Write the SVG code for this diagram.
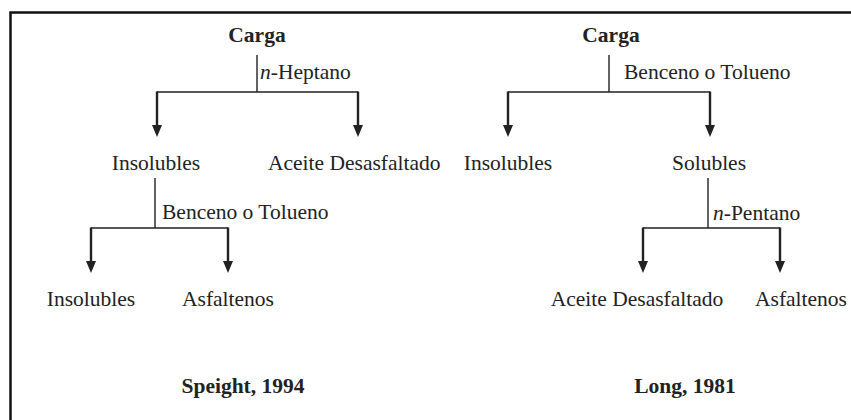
<svg xmlns="http://www.w3.org/2000/svg" width="851" height="420" viewBox="0 0 851 420">
  <style>
    .t { font-family: "Liberation Serif", "Times New Roman", serif; font-size: 21.5px; fill: #222; }
    .b { font-weight: bold; font-size: 21.5px; }
    .c { text-anchor: middle; }
    .thin { stroke: #222; stroke-width: 1.4; fill: none; }
    .stem { stroke: #222; stroke-width: 2.4; fill: none; marker-end: url(#head); }
    .frame { stroke: #111; stroke-width: 2.5; fill: none; }
  </style>
  <defs>
    <marker id="head" viewBox="0 0 10 12" refX="5" refY="0" markerWidth="10" markerHeight="12" markerUnits="userSpaceOnUse" orient="0">
      <path d="M0,0 L10,0 L5,12 z" fill="#222"/>
    </marker>
  </defs>

  <rect width="851" height="420" fill="#fff"/>
  <path class="frame" d="M10.5,420 V12.5 H851"/>

  <!-- Speight, 1994 -->
  <g id="speight-carga"><text class="t b c" x="257" y="42">Carga</text></g>
  <g id="speight-insolubles-1"><text class="t c" x="156" y="170">Insolubles</text></g>
  <g id="speight-aceite"><text class="t" x="268" y="170">Aceite Desasfaltado</text></g>
  <g id="speight-insolubles-2"><text class="t c" x="91" y="306">Insolubles</text></g>
  <g id="speight-asfaltenos"><text class="t c" x="228" y="306">Asfaltenos</text></g>
  <g id="speight-title"><text class="t b c" x="243" y="393">Speight, 1994</text></g>

  <!-- Long, 1981 -->
  <g id="long-carga"><text class="t b c" x="611" y="42">Carga</text></g>
  <g id="long-insolubles"><text class="t c" x="508" y="170">Insolubles</text></g>
  <g id="long-solubles"><text class="t c" x="709" y="170">Solubles</text></g>
  <g id="long-aceite"><text class="t c" x="637" y="306">Aceite Desasfaltado</text></g>
  <g id="long-asfaltenos"><text class="t c" x="801" y="306">Asfaltenos</text></g>
  <g id="long-title"><text class="t b c" x="685" y="393">Long, 1981</text></g>

  <g id="connectors">
    <!-- Speight: n-heptane split -->
    <path class="thin" d="M257,55 V92 M157,92 H358"/>
    <path class="stem" d="M157,91.5 V125"/>
    <path class="stem" d="M358,91.5 V125"/>
    <text class="t" x="260" y="79"><tspan font-style="italic">n</tspan>-Heptano</text>
    <!-- Speight: benzene/toluene split -->
    <path class="thin" d="M155,178 V228 M91,228 H228"/>
    <path class="stem" d="M91,227.5 V261"/>
    <path class="stem" d="M228,227.5 V261"/>
    <text class="t" x="162" y="219">Benceno o Tolueno</text>

    <!-- Long: benzene/toluene split -->
    <path class="thin" d="M609,55 V92 M508,92 H710"/>
    <path class="stem" d="M508,91.5 V125"/>
    <path class="stem" d="M710,91.5 V125"/>
    <text class="t" x="624" y="79">Benceno o Tolueno</text>
    <!-- Long: n-pentane split -->
    <path class="thin" d="M708,178 V228 M643,228 H780"/>
    <path class="stem" d="M643,227.5 V261"/>
    <path class="stem" d="M780,227.5 V261"/>
    <text class="t" x="713" y="220"><tspan font-style="italic">n</tspan>-Pentano</text>
  </g>
</svg>
